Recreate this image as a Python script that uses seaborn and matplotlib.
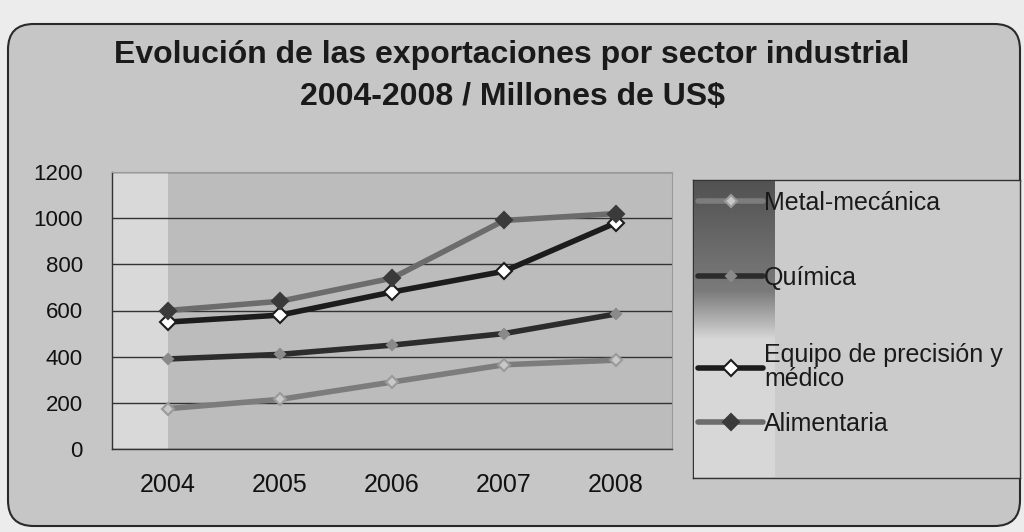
import numpy as np
import pandas as pd
import matplotlib
matplotlib.use("Agg")
import matplotlib.pyplot as plt
import seaborn as sns
from matplotlib.patches import FancyBboxPatch
from matplotlib.lines import Line2D

years = ["2004", "2005", "2006", "2007", "2008"]
metal_mecanica = [175, 215, 290, 365, 385]
quimica = [390, 410, 450, 500, 585]
equipo = [550, 580, 680, 770, 980]
alimentaria = [600, 640, 740, 990, 1020]
series_names = ["Metal-mecánica", "Química", "Equipo de precisión y\nmédico", "Alimentaria"]
yticks = [0, 200, 400, 600, 800, 1000, 1200]

rows = []
for name, vals in zip(series_names, [metal_mecanica, quimica, equipo, alimentaria]):
    for i, (y, v) in enumerate(zip(years, vals)):
        rows.append({"idx": i, "year": y, "value": v, "serie": name})
df = pd.DataFrame(rows)

sns.set_theme(style="white")
plt.rcParams["font.family"] = ["Liberation Sans", "DejaVu Sans"]

W, H = 1024, 532
fig = plt.figure(figsize=(W / 100, H / 100), dpi=100)
fig.patch.set_facecolor("#ececec")

# outer rounded frame
frame = FancyBboxPatch((8 / W, 6 / H), 1012 / W, 502 / H,
                       boxstyle="round,pad=0,rounding_size=0.025",
                       transform=fig.transFigure, facecolor="#c6c6c6",
                       edgecolor="#2a2a2a", linewidth=1.5, zorder=-10, mutation_aspect=W / H)
fig.patches.append(frame)

ax = fig.add_axes([112 / W, (H - 449) / H, 560 / W, (449 - 172) / H])
ax.set_facecolor("#bcbcbc")
ax.axvspan(-0.5, 0.0, color="#d9d9d9", zorder=0, lw=0)

styles = {
    "Metal-mecánica": dict(color="#7c7c7c", lw=4, marker="D", ms=6, mfc="#c8c8c8", mec="#9a9a9a"),
    "Química": dict(color="#2c2c2c", lw=4, marker="D", ms=5, mfc="#8a8a8a", mec="#8a8a8a"),
    "Equipo de precisión y\nmédico": dict(color="#1c1c1c", lw=4, marker="D", ms=8, mfc="white", mec="#1c1c1c"),
    "Alimentaria": dict(color="#6c6c6c", lw=4, marker="D", ms=8, mfc="#3a3a3a", mec="#3a3a3a"),
}

for name in series_names:
    st = styles[name]
    sns.lineplot(data=df[df["serie"] == name], x="idx", y="value", ax=ax,
                 color=st["color"], lw=st["lw"], marker=st["marker"], markersize=st["ms"],
                 markerfacecolor=st["mfc"], markeredgecolor=st["mec"], markeredgewidth=1.5,
                 legend=False, zorder=3)

ax.set_xlim(-0.5, 4.5)
ax.set_ylim(0, 1200)
ax.set_yticks(yticks)
ax.set_yticklabels([str(t) for t in yticks], fontsize=16, color="#111111")
ax.set_xticks(range(len(years)))
ax.set_xticklabels(years, fontsize=18, color="#111111")
ax.set_xticks(np.arange(-0.5, 5.0, 1.0), minor=True)
ax.tick_params(axis="x", which="major", length=0, pad=17)
ax.tick_params(axis="x", which="minor", length=6, width=1, color="#333333", direction="out")
ax.tick_params(axis="y", which="major", length=5, width=1, color="#333333", direction="out", pad=16)
ax.set_xlabel("")
ax.set_ylabel("")
ax.yaxis.grid(True, color="#333333", lw=1)
ax.set_axisbelow(True)
for s in ["top", "right"]:
    ax.spines[s].set_color("#9a9a9a")
    ax.spines[s].set_linewidth(0.8)
for s in ["left", "bottom"]:
    ax.spines[s].set_color("#333333")
    ax.spines[s].set_linewidth(1)

fig.text(0.5, 1 - 55 / H, "Evolución de las exportaciones por sector industrial",
         ha="center", va="center", fontsize=23, fontweight="bold", color="#1a1a1a")
fig.text(0.5, 1 - 97 / H, "2004-2008 / Millones de US$",
         ha="center", va="center", fontsize=23, fontweight="bold", color="#1a1a1a")

lx0, ly0, lw_, lh_ = 693 / W, (H - 478) / H, 327 / W, 298 / H

# gray panel behind legend, with frame
bg = fig.add_axes([lx0, ly0, lw_, lh_], zorder=0.5)
bg.set_facecolor("#cbcbcb")
bg.set_xticks([]); bg.set_yticks([])
for s in bg.spines.values():
    s.set_color("#333333")
    s.set_linewidth(1)

# legend gradient strip (dark at top)
gax = fig.add_axes([lx0 + 1 / W, ly0 + 1 / H, 81 / W, lh_ - 2 / H], zorder=1)
grad = np.concatenate([np.linspace(0.32, 0.48, 110), np.linspace(0.48, 0.84, 50), np.full(138, 0.84)])
gax.imshow(grad.reshape(-1, 1), aspect="auto", cmap="gray", vmin=0, vmax=1,
           extent=[0, 1, 0, 1], origin="upper")
gax.set_axis_off()

# legend entries: one small legend per entry, placed like the reference
entry_y = [203, 278, 367, 424]
for name, yc in zip(series_names, entry_y):
    st = styles[name]
    h = Line2D([0], [0], color=st["color"], lw=st["lw"], marker=st["marker"],
               markersize=st["ms"], markerfacecolor=st["mfc"],
               markeredgecolor=st["mec"], markeredgewidth=1.5)
    leg = fig.legend([h], [name], loc="center left",
                     bbox_to_anchor=(698 / W, 1 - yc / H),
                     fontsize=18, frameon=False, handlelength=2.6,
                     handletextpad=0.05, borderaxespad=0, borderpad=0)
    leg.set_zorder(5)
    for t in leg.get_texts():
        t.set_color("#1a1a1a")
        t.set_linespacing(1.05)

fig.savefig("out.png", dpi=100, facecolor=fig.get_facecolor())
